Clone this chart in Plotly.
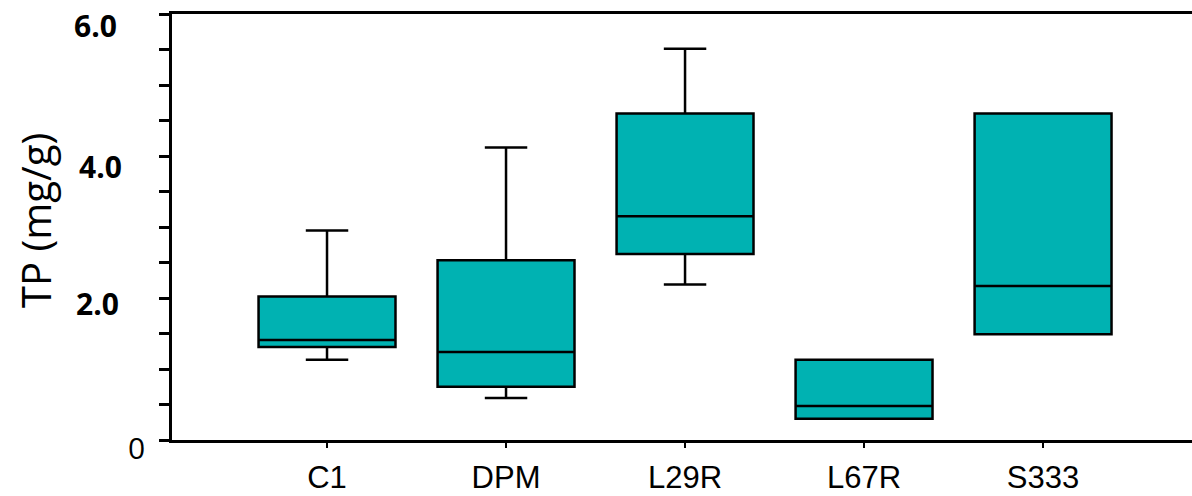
import plotly.graph_objects as go

categories = ["C1", "DPM", "L29R", "L67R", "S333"]
lower_whisker = [1.13, 0.59, 2.19, 0.30, 1.49]
q1_values = [1.31, 0.75, 2.62, 0.30, 1.49]
median_values = [1.41, 1.24, 3.15, 0.48, 2.17]
q3_values = [2.02, 2.53, 4.60, 1.13, 4.60]
upper_whisker = [2.95, 4.12, 5.51, 1.13, 4.60]

y_label_vals = [6.0, 4.0, 2.0, 0.0]
y_label_text = ["<b>6.0</b>", "<b>4.0</b>", "<b>2.0</b>", "0"]
y_minor_ticks = [i * 0.5 for i in range(13)]

# style: per-label pixel offsets (right edge relative to axis, vertical shift)
label_xshift = [-53, -48, -51, -25]
label_yshift = [-11, -10, -5, -7]

fig = go.Figure()
fig.add_trace(go.Box(
    x=categories,
    q1=q1_values,
    median=median_values,
    q3=q3_values,
    lowerfence=lower_whisker,
    upperfence=upper_whisker,
    fillcolor="rgb(0,178,178)",
    line=dict(color="black", width=2.5),
    width=0.765,
    whiskerwidth=0.31,
    boxpoints=False,
    hoverinfo="skip",
))

fig.update_layout(
    width=1192, height=496,
    margin=dict(l=172, r=0, t=14, b=56),
    paper_bgcolor="white", plot_bgcolor="white",
    showlegend=False,
    xaxis=dict(
        range=[-0.866, 4.832],
        automargin=False,
        showline=True, linecolor="black", linewidth=3, mirror=True,
        ticks="outside", ticklen=5, tickwidth=2, tickcolor="black",
        showgrid=False, zeroline=False,
        tickfont=dict(family="Liberation Sans, Arial", size=31, color="black"),
        ticklabelstandoff=3,
    ),
    yaxis=dict(
        range=[0, 6],
        automargin=False,
        showline=True, linecolor="black", linewidth=3, mirror=False,
        tickmode="array", tickvals=y_minor_ticks,
        ticks="outside", ticklen=10, tickwidth=2.5, tickcolor="black",
        showticklabels=False,
        showgrid=False, zeroline=False,
    ),
)

for v, t, xs, ys in zip(y_label_vals, y_label_text, label_xshift, label_yshift):
    fig.add_annotation(
        x=0, xref="paper", y=v, yref="y",
        text=t, showarrow=False, xanchor="right", yanchor="middle",
        xshift=xs, yshift=ys,
        font=dict(family="Open Sans", size=30, color="black"),
    )

fig.add_annotation(
    x=0, xref="paper", y=0.514, yref="paper",
    text="TP (mg/g)", textangle=-90, showarrow=False,
    xanchor="center", yanchor="middle", xshift=-137,
    font=dict(family="Open Sans", size=40, color="black"),
)

fig.write_html("out.html")
